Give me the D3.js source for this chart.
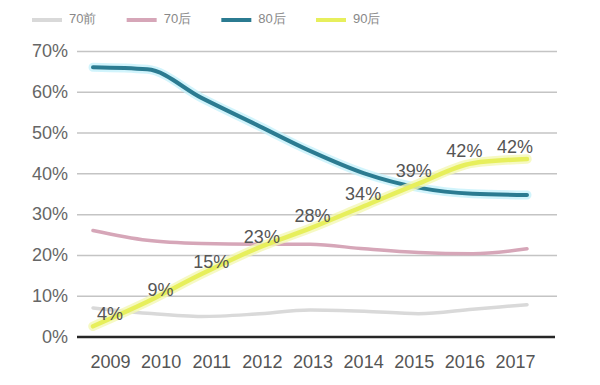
<!DOCTYPE html>
<html>
<head>
<meta charset="utf-8">
<script src="https://cdn.jsdelivr.net/npm/d3@7"></script>
<style>
  body { margin: 0; background: #fff; }
  text { font-family: "Liberation Sans", Arial, sans-serif; }
</style>
</head>
<body>
<svg id="chart" width="600" height="385"></svg>
<script>
// data (percent)
const years = ["2009", "2010", "2011", "2012", "2013", "2014", "2015", "2016", "2017"];
const seriesNames = ["70前", "70后", "80后", "90后"];
const pre70 = [7, 5.7, 4.9, 5.5, 6.5, 6.2, 5.6, 6.7, 7.8];
const post70 = [26, 23.6, 22.8, 22.6, 22.6, 21.5, 20.6, 20.3, 21.5];
const post80 = [66, 65.5, 58.5, 52, 45.5, 40, 36.5, 35, 34.7];
const post90 = [2.5, 8.5, 15.3, 21.5, 26.5, 32, 37.5, 42.5, 43.5];
const post90Labels = ["4%", "9%", "15%", "23%", "28%", "34%", "39%", "42%", "42%"];
const yTicks = [0, 10, 20, 30, 40, 50, 60, 70];

const colors = { "70前": "#d9d9d9", "70后": "#d6a6b8", "80后": "#2b7b91", "90后": "#e7ef5c" };
const glows = { "80后": "#c6f1fb", "90后": "#f4f8b4" };

const svg = d3.select("#chart");
const plot = { left: 77, right: 557, top: 51, bottom: 336.5 };

const y = d3.scaleLinear().domain([0, 70]).range([plot.bottom, plot.top]);
// lines run slightly wider than the year labels in the original
const xLine = d3.scalePoint().domain(years).range([93, 527]);
const xLabel = d3.scalePoint().domain(years).range([110, 515]);

// grid + y labels
const yAxisG = svg.append("g")
    .attr("transform", `translate(${plot.left},0)`)
    .call(d3.axisLeft(y).tickValues(yTicks).tickSize(-(plot.right - plot.left)).tickPadding(9).tickFormat(d => d + "%"));
yAxisG.select(".domain").remove();
yAxisG.selectAll(".tick line")
    .attr("stroke", "#c4c4c4")
    .attr("stroke-width", 1.5);
yAxisG.selectAll(".tick").filter(d => d === 0).select("line")
    .attr("stroke", "#262626")
    .attr("stroke-width", 2.5)
    .attr("x2", plot.right - plot.left - 2);
yAxisG.selectAll(".tick text")
    .attr("fill", "#666")
    .style("font-size", "18px");

// x labels
const xAxisG = svg.append("g")
    .attr("transform", `translate(0,${plot.bottom})`)
    .call(d3.axisBottom(xLabel).tickSize(0).tickPadding(19));
xAxisG.select(".domain").remove();
xAxisG.selectAll(".tick text")
    .attr("fill", "#555")
    .style("font-size", "18px");

const series = [
    { name: "70前", values: pre70, width: 3.5 },
    { name: "70后", values: post70, width: 3.5 },
    { name: "80后", values: post80, width: 4 },
    { name: "90后", values: post90, width: 4.5 }
];

const line = d3.line()
    .x((d, i) => xLine(years[i]))
    .y(d => y(d))
    .curve(d3.curveMonotoneX);

const linesG = svg.append("g");
series.forEach(s => {
    if (glows[s.name]) {
        linesG.append("path")
            .attr("d", line(s.values))
            .attr("fill", "none")
            .attr("stroke", glows[s.name])
            .attr("stroke-width", s.width + 5)
            .attr("stroke-linecap", "round")
            .attr("opacity", 0.8);
    }
    linesG.append("path")
        .attr("d", line(s.values))
        .attr("fill", "none")
        .attr("stroke", colors[s.name])
        .attr("stroke-width", s.width)
        .attr("stroke-linecap", "round");
});

// 90后 value labels
svg.append("g").selectAll("text")
    .data(post90Labels)
    .join("text")
    .attr("x", (d, i) => xLabel(years[i]))
    .attr("y", (d, i) => y(post90[i]) - 11)
    .attr("text-anchor", "middle")
    .attr("dominant-baseline", "middle")
    .attr("fill", "#555")
    .style("font-size", "18px")
    .text(d => d);

// legend
const legendX = d3.scalePoint().domain(seriesNames).range([32, 316]);
const legend = svg.append("g").selectAll("g")
    .data(seriesNames)
    .join("g")
    .attr("transform", d => `translate(${legendX(d)},20)`);
legend.append("line")
    .attr("x1", 0).attr("x2", 30)
    .attr("stroke", d => colors[d])
    .attr("stroke-width", 4);
legend.append("text")
    .attr("x", 37)
    .attr("dominant-baseline", "middle")
    .attr("fill", "#888")
    .style("font-size", "13px")
    .text(d => d);
</script>
</body>
</html>
